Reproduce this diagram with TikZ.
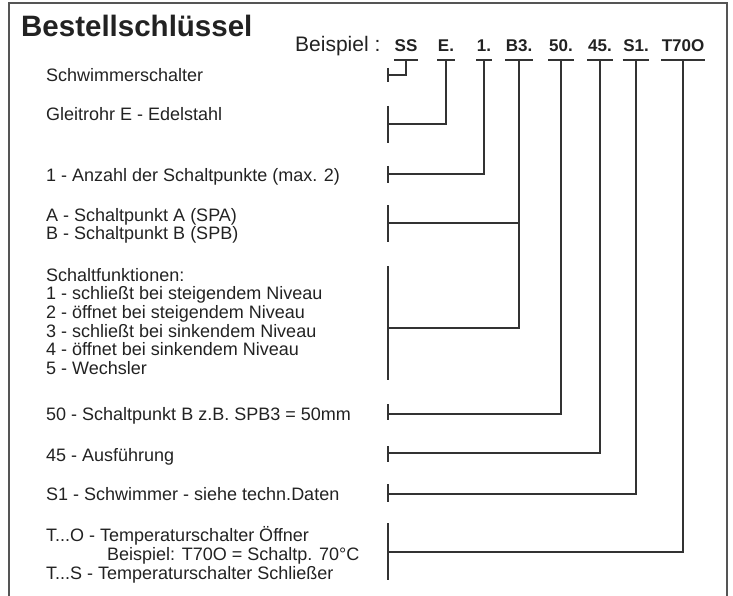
\documentclass[tikz,border=0pt]{standalone}
\usepackage{fontspec}
\setmainfont{Liberation Sans}
\usetikzlibrary{positioning}
\definecolor{ink}{HTML}{222222}
\definecolor{linegray}{HTML}{333333}
\definecolor{framegray}{HTML}{555555}

\begin{document}
\begin{tikzpicture}[x=1pt,y=-1pt,
    every node/.style={inner sep=0pt,text=ink},
    txt/.style={anchor=base west,font=\fontsize{18}{19}\selectfont},
    code/.style={anchor=base,font=\fontsize{17}{18}\selectfont\bfseries,inner xsep=0.5pt,text depth=8pt},
    conn/.style={draw=linegray,line width=2pt},
    frame/.style={draw=framegray,line width=1.6pt}]
  \useasboundingbox (0,0) rectangle (733,596);
  \draw[frame] (9,596) -- (9,3) -- (727,3) -- (727,596);

  \node[anchor=base west,font=\fontsize{29.5}{31}\selectfont\bfseries] (title) at (21,37) {Bestellschlüssel};
  \node[anchor=base west,font=\fontsize{21}{22}\selectfont] (bsp) at (295,52) {Beispiel :};

  % code letters
  \node[code] (c-ss) at (406,52) {SS};
  \node[code] (c-e)  at (446,52) {E.};
  \node[code] (c-1)  at (484,52) {1.};
  \node[code] (c-b)  at (519,52) {B3.};
  \node[code] (c-50) at (561,52) {50.};
  \node[code] (c-45) at (600,52) {45.};
  \node[code] (c-s1) at (636,52) {S1.};
  \node[code] (c-t)  at (683,52) {T70O};
  \foreach \c in {ss,e,1,b,50,45,s1,t}
    \draw[conn] (c-\c.south west) -- (c-\c.south east);

  % explanations
  \node[txt] (l-ss) at (46,82) {Schwimmerschalter};
  \node[txt] (l-e)  at (46,121) {Gleitrohr E - Edelstahl};
  \node[txt] (l-1)  at (46,181.5) {1 - Anzahl der Schaltpunkte (max. 2)};
  \node[txt] (l-a)  at (46,221.5) {A - Schaltpunkt A (SPA)};
  \node[txt] (l-b)  at (46,239.5) {B - Schaltpunkt B (SPB)};
  \foreach \t [count=\i from 0] in {Schaltfunktionen:,
      1 - schließt bei steigendem Niveau,
      2 - öffnet bei steigendem Niveau,
      3 - schließt bei sinkendem Niveau,
      4 - öffnet bei sinkendem Niveau,
      5 - Wechsler}
    \node[txt] (sf\i) at (46,281+18.7*\i) {\t};
  \node[txt] (l-50) at (46,420.5) {50 - Schaltpunkt B z.B. SPB3 = 50mm};
  \node[txt] (l-45) at (46,461) {45 - Ausführung};
  \node[txt] (l-s1) at (46,500.5) {S1 - Schwimmer - siehe techn.Daten};
  \node[txt] (l-t1) at (46,541.5) {T...O - Temperaturschalter Öffner};
  \node[txt] (l-t2) at (107,560) {Beispiel: T70O = Schaltp. 70°C};
  \node[txt] (l-t3) at (46,579) {T...S - Temperaturschalter Schließer};

  % connector ends
  \coordinate (k-ss) at (388,75);
  \coordinate (k-e)  at (388,124);
  \coordinate (k-1)  at (388,174);
  \coordinate (k-ab) at (388,223);
  \coordinate (k-sf) at (388,328);
  \coordinate (k-50) at (388,414);
  \coordinate (k-45) at (388,453);
  \coordinate (k-s1) at (388,494);
  \coordinate (k-t)  at (388,552);

  \draw[conn] (k-ss) ++(0,-7) -- ++(0,14);
  \draw[conn] (k-e) ++(0,-18) -- ++(0,37);
  \draw[conn] (k-1) ++(0,-8) -- ++(0,17);
  \draw[conn] (k-ab) ++(0,-18) -- ++(0,37);
  \draw[conn] (k-sf) ++(0,-62) -- ++(0,114);
  \draw[conn] (k-50) ++(0,-10) -- ++(0,16);
  \draw[conn] (k-45) ++(0,-7) -- ++(0,16);
  \draw[conn] (k-s1) ++(0,-10) -- ++(0,18);
  \draw[conn] (k-t) ++(0,-29) -- ++(0,57);

  \draw[conn] (c-ss.south) |- (k-ss);
  \draw[conn] (c-e.south) |- (k-e);
  \draw[conn] (c-1.south) |- (k-1);
  \draw[conn] (c-b.south) |- (k-sf);
  \draw[conn] (c-b.south |- k-ab) -- (k-ab);
  \draw[conn] (c-50.south) |- (k-50);
  \draw[conn] (c-45.south) |- (k-45);
  \draw[conn] (c-s1.south) |- (k-s1);
  \draw[conn] (c-t.south) |- (k-t);
\end{tikzpicture}
\end{document}
